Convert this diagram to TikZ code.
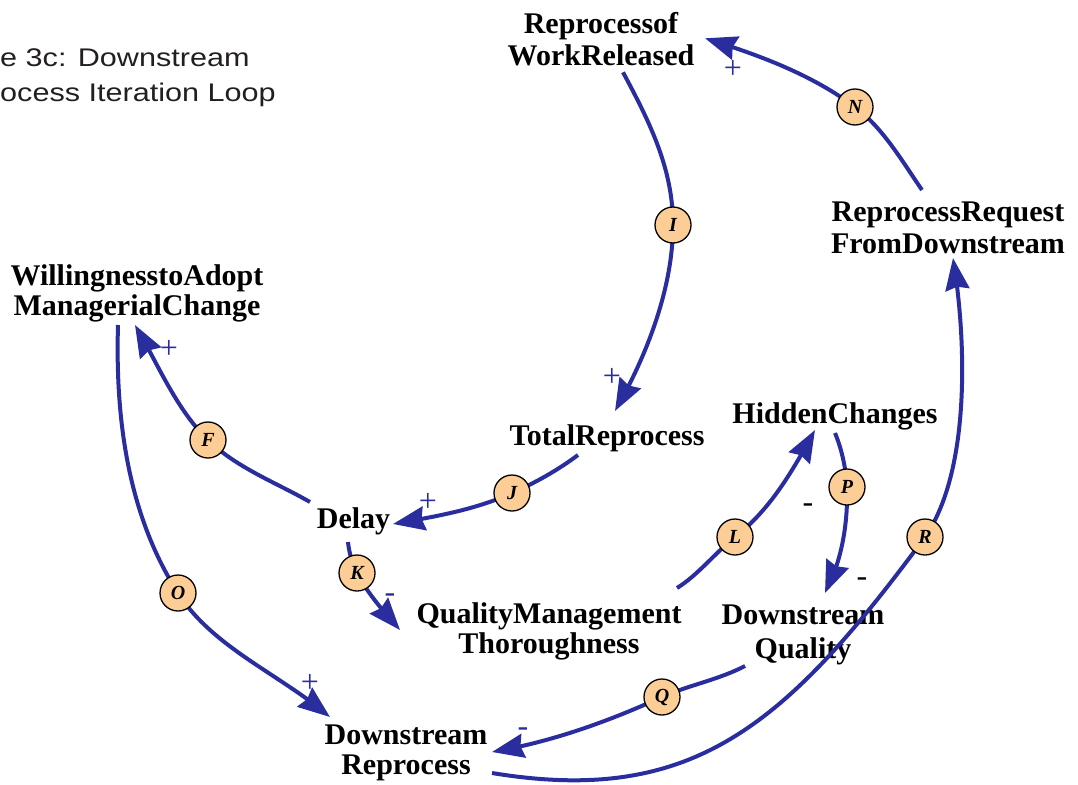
\documentclass[tikz,border=0pt]{standalone}
\usepackage{fontspec}
\setmainfont{Liberation Serif}
\newfontfamily\titlefont{Liberation Sans}
\usepackage{graphicx}
\usetikzlibrary{arrows.meta,bending,calc}
\definecolor{cldblue}{RGB}{42,45,158}
\definecolor{circfill}{RGB}{252,205,148}
\definecolor{titlegray}{RGB}{35,31,32}
\begin{document}
\begin{tikzpicture}[x=1pt,y=-1pt,
  var/.style={font=\bfseries\fontsize{30}{#1}\selectfont, align=center, inner sep=0pt, text=black},
  var/.default=31,
  link/.style={draw=cldblue, line width=4pt, -{Stealth[length=32pt,width=24pt,inset=3pt]}},
  lbl/.style={circle, draw=black, line width=1.3pt, fill=circfill, minimum size=36pt, inner sep=0pt, font=\bfseries\itshape\fontsize{20}{20}\selectfont},
  pol/.style={text=cldblue, font=\fontsize{32}{32}\selectfont, inner sep=0pt},
  polk/.style={pol, text=black},
]
\useasboundingbox (0,0) rectangle (1078,784);

% title (cut at the left edge)
\node[anchor=north west, inner sep=0pt, align=left, text=titlegray,
      font=\titlefont\fontsize{25.5}{35}\selectfont] (title) at (0,48)
  {\scalebox{1.2}[1]{e 3c: Downstream}\\\scalebox{1.2}[1]{ocess Iteration Loop}};

% variables
\node[var=32] (wr) at (601,39.3) {Reprocessof\\WorkReleased};
\node[var=32] (rr) at (948,228) {ReprocessRequest\\FromDownstream};
\node[var=30] (wa) at (137,293) {WillingnesstoAdopt\\ManagerialChange};
\node[var] (tr) at (607,438) {TotalReprocess};
\node[var] (hc) at (835,416) {HiddenChanges};
\node[var] (dl) at (353.5,521) {Delay};
\node[var=30] (qm) at (549,631) {QualityManagement\\Thoroughness};
\node[var=34] (dq) at (803,635) {Downstream\\Quality};
\node[var=30] (dr) at (406,753) {Downstream\\Reprocess};

% points where the link labels sit
\coordinate (mI) at (673,225);
\coordinate (mJ) at (512,493);
\coordinate (mF) at (208,440);
\coordinate (mK) at (357,573);
\coordinate (mL) at (735,537);
\coordinate (mP) at (847,487);
\coordinate (mO) at (178,593);
\coordinate (mQ) at (662,697);
\coordinate (mR) at (925,537);
\coordinate (mN) at (855,107);

% links
\draw[link] ($(wr)+(22,33)$) .. controls +(28,52) and +(0,-55) .. (mI)
            .. controls +(0,65) and +(30,-52) .. ($(tr)+(8,-27)$);
\draw[link] ($(tr)+(-29,17)$) .. controls +(-20,15) and +(23,-10) .. (mJ)
            .. controls +(-37,17) and +(40,-7) .. ($(dl)+(39.5,3)$);
\draw[link] ($(dl)+(-43.5,-19)$) .. controls +(-35,-20) and +(29,28) .. (mF)
            .. controls +(-32,-31) and +(23,39) .. ($(wa)+(-2,32)$);
\draw[link] ($(wa)+(-19,32)$) .. controls +(-3,100) and +(-48,-75) .. (mO)
            .. controls +(35,55) and +(-50,-43) .. ($(dr)+(-76,-36)$);
\draw[link] ($(dl)+(-5.5,21)$) .. controls +(1,10) and +(-5,-10) .. (mK)
            .. controls +(11,21) and +(-16,-18) .. ($(qm)+(-149,-1)$);
\draw[link] ($(qm)+(128,-43)$) .. controls +(21,-13) and +(-20,16) .. (mL)
            .. controls +(36,-28) and +(-22,40) .. ($(hc)+(-20,14)$);
\draw[link] ($(hc)+(0,17)$) .. controls +(7,17) and +(-1,-18) .. (mP)
            .. controls +(1,36) and +(17,-32) .. ($(dq)+(22,-42)$);
\draw[link] ($(dq)+(-58,31)$) .. controls +(-27,14) and +(27,-12) .. (mQ)
            .. controls +(-55,25) and +(59,-10) .. ($(dr)+(86,-1)$);
\draw[link] ($(dr)+(86,20)$) .. controls +(200,33) and +(-140,190) .. (mR)
            .. controls +(45,-65) and +(14,85) .. ($(rr)+(5,30)$);
\draw[link] ($(rr)+(-26,-38)$) .. controls +(-20,-29) and +(28,21) .. (mN)
            .. controls +(-44,-33) and +(52,16) .. ($(wr)+(104,-1)$);

% link labels
\node[lbl] (cI) at (mI) {I};
\node[lbl] (cJ) at (mJ) {J};
\node[lbl] (cF) at (mF) {F};
\node[lbl] (cK) at (mK) {K};
\node[lbl] (cL) at (mL) {L};
\node[lbl] (cP) at (mP) {P};
\node[lbl] (cO) at (mO) {O};
\node[lbl] (cQ) at (mQ) {Q};
\node[lbl] (cR) at (mR) {R};
\node[lbl] (cN) at (mN) {N};

% polarities
\node[pol] (sI) at (612,377) {+};
\node[pol] (sJ) at (428,502) {+};
\node[pol] (sF) at (169,349) {+};
\node[pol] (sK) at (390,598) {-};
\node[polk] (sL) at (808,508) {-};
\node[polk] (sP) at (862,582) {-};
\node[pol] (sO) at (310,683) {+};
\node[pol] (sQ) at (523,732) {-};
\node[pol] (sN) at (733,69) {+};
\end{tikzpicture}
\end{document}
